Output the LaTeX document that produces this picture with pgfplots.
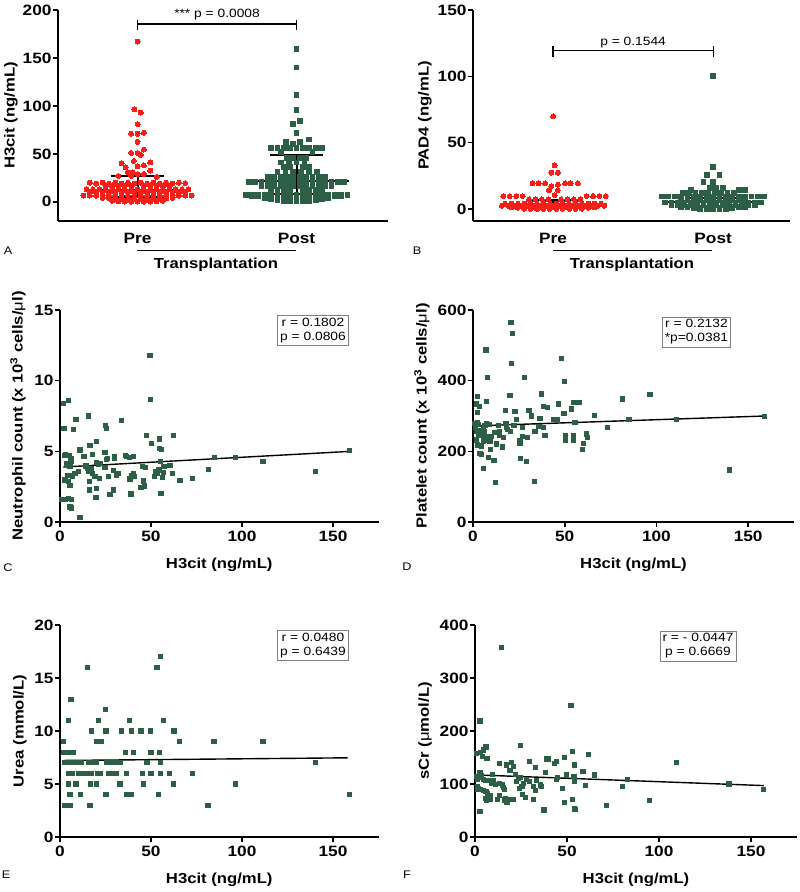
\documentclass[border=0pt]{standalone}
\usepackage{fontspec}
\setmainfont{Liberation Sans}[FakeStretch=1.15]
\usepackage{pgfplots}
\pgfplotsset{compat=1.18}
\definecolor{preRed}{RGB}{250,30,25}
\definecolor{postGreen}{RGB}{45,95,70}
\pgfplotsset{
  gp/.style={
    scale only axis, anchor=south west, clip=false,
    axis lines=left,
    axis line style={line width=1.6pt,-},
    every tick/.style={line width=1.6pt, black},
    tick align=outside, major tick length=5pt,
    /pgf/number format/assume math mode=true,
    tick label style={font=\fontsize{15}{17}\selectfont\bfseries},
    yticklabel style={xshift=2pt},
    label style={font=\fontsize{14.5}{17}\selectfont\bfseries},
  },
  ylab/.style={ylabel style={at={([xshift=-#1]axis description cs:0,0.5)}, anchor=center}},
  sc/.style={gp, xlabel style={yshift=-10pt}},
  preM/.style={only marks, color=preRed, mark=*, mark size=2.5pt, mark options={draw=preRed, fill=preRed, line width=0pt}},
  postM/.style={only marks, color=postGreen, mark=square*, mark size=2.4pt, mark options={draw=postGreen, fill=postGreen, line width=0pt}},
  scat/.style={only marks, color=postGreen, mark=square*, mark size=2.1pt, mark options={draw=postGreen, fill=postGreen, line width=0pt}},
  bar/.style={black, line width=2pt, mark=none},
  brk/.style={black, line width=1.3pt, mark=none},
  reg/.style={black, line width=1.4pt, mark=none},
}
\tikzset{
  box/.style={draw=gray, line width=0.7pt, align=center, inner sep=2.5pt, font=\fontsize{12}{14}\selectfont},
  plet/.style={font=\fontsize{11}{12}\selectfont},
}
\begin{document}
\begin{tikzpicture}[x=1pt,y=1pt]
\path[use as bounding box] (0,0) rectangle (800,892);

% ---------------- A ----------------
\begin{axis}[gp, ylab=47pt, at={(58pt,671pt)}, width=330pt, height=211pt,
  xmin=0.5, xmax=2.575, ymin=-20, ymax=200,
  ytick={0,50,100,150,200}, xtick={1,2}, xticklabels={Pre,Post},
  x tick style={draw=none}, xticklabel style={yshift=-4pt},
  ylabel={H3cit (ng/mL)}]
\addplot[preM] coordinates {
(1.00,167)(0.98,96.5)(1.02,93)(1.00,81)(0.96,71)(1.00,71)(1.04,72)(1.00,62.5)(1.04,54.5)(0.96,51)(1.00,51)(1.02,49)(0.977,42.7)(0.90,40)(1.08,41)(0.925,36)(1.00,37)(1.04,38)(0.94,31)(0.97,31)(1.08,32.6)(1.00,29)(1.04,29)(0.88,27)(0.96,27)(1.12,26)
(0.70,20)(0.74,19)(0.78,20)(0.82,19)(0.86,20)(0.90,19)(0.94,20)(0.98,19)(1.02,20)(1.06,19)(1.10,20)(1.14,19)(1.18,20)(1.22,19)(1.26,20)(1.30,19.5)
(0.80,16.5)(0.84,16.5)(0.88,16.5)(0.92,16.5)(0.96,16.5)(1.04,16.5)(1.08,16.5)(1.12,16.5)(1.16,16.5)(1.20,16.5)
(0.68,13)(0.72,13)(0.76,13)(0.80,13)(0.84,13)(0.88,13)(0.92,13)(0.96,13)(1.00,13)(1.04,13)(1.08,13)(1.12,13)(1.16,13)(1.20,13)(1.24,13)(1.28,13)(1.32,13)
(0.70,9.5)(0.74,9.5)(0.78,9.5)(0.82,9.5)(0.86,9.5)(0.90,9.5)(0.94,9.5)(0.98,9.5)(1.02,9.5)(1.06,9.5)(1.10,9.5)(1.14,9.5)(1.18,9.5)(1.22,9.5)(1.26,9.5)(1.30,9.5)
(0.66,6.5)(0.70,6.5)(0.74,6.5)(0.78,6.5)(0.82,6.5)(0.86,6.5)(0.90,6.5)(0.94,6.5)(0.98,6.5)(1.02,6.5)(1.06,6.5)(1.10,6.5)(1.14,6.5)(1.18,6.5)(1.22,6.5)(1.26,6.5)(1.30,6.5)(1.34,6.5)
(0.78,4)(0.82,3.5)(0.86,3)(0.90,3)(0.94,3)(0.98,3)(1.02,3)(1.06,3)(1.10,3)(1.14,3)(1.18,3.5)(1.22,4)
(0.84,1)(0.88,0.5)(0.92,0.3)(0.96,0.2)(1.00,0.2)(1.04,0.2)(1.08,0.3)(1.12,0.5)(1.16,1)
};
\addplot[postM] coordinates {
(2.00,159)(2.00,140)(2.00,111)(2.00,96)(2.02,84)(1.98,81)(2.00,72)(2.08,65)(1.935,62)(2.02,62)(1.977,60)
(1.84,56)(1.88,56)(1.92,56)(1.96,56)(2.00,56)(2.04,56)(2.08,56)(2.12,56)(2.16,56)
(1.90,52)(2.10,52)
(1.94,46)(1.98,46)(2.02,46)(2.06,46)
(1.90,41)(1.95,41)(2.00,41)(2.05,41)
(1.92,36)(1.96,36)(2.04,36)(2.08,36)
(1.88,31)(1.93,31)(1.98,31)(2.03,31)(2.08,31)(2.13,31)
(1.82,26)(1.86,26)(1.90,26)(1.94,26)(1.98,26)(2.02,26)(2.06,26)(2.10,26)(2.14,26)(2.18,26)
(1.70,21)(1.74,21)(1.78,21)(1.82,21)(1.86,21)(1.90,21)(1.94,21)(1.98,21)(2.02,21)(2.06,21)(2.10,21)(2.14,21)(2.18,21)(2.22,21)(2.26,21)(2.30,21)
(1.78,16)(1.82,16)(1.86,16)(1.90,16)(1.94,16)(1.98,16)(2.02,16)(2.06,16)(2.10,16)(2.14,16)(2.18,16)(2.22,16)
(1.84,12)(1.88,12)(1.92,12)(1.96,12)(2.04,12)(2.08,12)(2.12,12)(2.16,12)
(1.68,7)(1.72,7)(1.76,7)(1.80,7)(1.84,7)(1.88,7)(1.92,7)(1.96,7)(2.00,7)(2.04,7)(2.08,7)(2.12,7)(2.16,7)(2.20,7)(2.24,7)(2.28,7)(2.32,7)
(1.72,6)(1.76,5.5)(1.80,5)(1.84,5)(1.88,4.5)(1.92,4.5)(1.96,4.5)(2.00,4.5)(2.04,4.5)(2.08,4.5)(2.12,4.5)(2.16,5)(2.20,5)(2.24,5.5)(2.28,6)
(1.80,3.5)(1.84,3)(1.88,2.5)(1.92,2.5)(1.96,2.5)(2.00,2.5)(2.04,2.5)(2.08,2.5)(2.12,2.5)(2.16,3)(2.20,3.5)
(1.88,1.5)(1.92,1)(1.96,1)(2.00,1)(2.04,1)(2.08,1)(2.12,1.5)
};
% median / IQR bars
\addplot[bar] coordinates {(0.67,12.5)(1.33,12.5)};
\addplot[bar] coordinates {(0.835,26.7)(1.165,26.7)};
\addplot[bar] coordinates {(0.835,5.5)(1.165,5.5)};
\addplot[bar] coordinates {(1,5.5)(1,26.7)};
\addplot[bar] coordinates {(1.68,22)(2.33,22)};
\addplot[bar] coordinates {(1.83,49)(2.165,49)};
\addplot[bar] coordinates {(1.83,8)(2.165,8)};
\addplot[bar] coordinates {(2,8)(2,49)};
% significance bracket
\addplot[brk] coordinates {(1,185.4)(2,185.4)};
\addplot[brk] coordinates {(1,190)(1,179)};
\addplot[brk] coordinates {(2,190)(2,179)};
\node[font=\fontsize{12}{14}\selectfont] at (axis cs:1.5,195) {*** p = 0.0008};
\end{axis}

% ---------------- B ----------------
\begin{axis}[gp, ylab=48pt, at={(473pt,671pt)}, width=317pt, height=211pt,
  xmin=0.5, xmax=2.48, ymin=-9, ymax=150,
  ytick={0,50,100,150}, xtick={1,2}, xticklabels={Pre,Post},
  x tick style={draw=none}, xticklabel style={yshift=-4pt},
  ylabel={PAD4 (ng/mL)}]
\addplot[preM] coordinates {
(1.00,70)(1.01,33)(0.99,27.4)(1.03,27.4)(0.873,19.4)(0.91,19.4)(0.95,19.4)(1.075,19.4)(1.11,19.4)(1.155,19.4)(0.99,17.3)(1.03,18.3)(0.975,14.3)(1.03,14.3)(1.01,10.5)
(0.69,9.8)(0.73,9.8)(0.77,9.8)(0.81,9.8)(1.21,9.8)(1.25,9.8)(1.29,9.8)(1.33,9.8)
(0.85,7.3)(0.89,7.3)(0.93,7.3)(0.97,7.3)(1.05,7.3)(1.09,7.3)(1.13,7.3)(1.17,7.3)
(0.70,4)(0.74,4)(0.78,4)(0.82,4)(0.86,4)(0.90,4)(0.94,4)(0.98,4)(1.02,4)(1.06,4)(1.10,4)(1.14,4)(1.18,4)(1.22,4)(1.26,4)(1.30,4)
(0.68,2.5)(0.72,2.5)(0.76,2.5)(0.80,2.5)(0.84,2.5)(0.88,2.5)(0.92,2.5)(0.96,2.5)(1.00,2.5)(1.04,2.5)(1.08,2.5)(1.12,2.5)(1.16,2.5)(1.20,2.5)(1.24,2.5)(1.28,2.5)(1.32,2.5)
(0.74,1.2)(0.78,1)(0.82,1)(0.86,1)(0.90,1)(0.94,1)(0.98,1)(1.02,1)(1.06,1)(1.10,1)(1.14,1)(1.18,1)(1.22,1)(1.26,1.2)
(0.82,0.3)(0.86,0.2)(0.90,0.1)(0.94,0.1)(0.98,0.1)(1.02,0.1)(1.06,0.1)(1.10,0.1)(1.14,0.2)(1.18,0.3)
};
\addplot[postM] coordinates {
(2.00,100)(2.00,31.4)(1.96,25.6)(2.04,25.6)(1.94,20.1)(2.00,20.6)(1.98,16)(2.02,16)(2.06,16)(1.86,14.3)(2.16,14.3)(2.20,14.3)
(1.81,11.8)(1.85,11.8)(1.89,11.8)(1.93,11.8)(1.97,11.8)(2.01,11.8)(2.05,11.8)(2.09,11.8)(2.13,11.8)
(1.68,9.5)(1.72,9.5)(1.76,9.5)(1.80,9.5)(1.84,9.5)(1.88,9.5)(1.92,9.5)(1.96,9.5)(2.00,9.5)(2.04,9.5)(2.08,9.5)(2.12,9.5)(2.16,9.5)(2.20,9.5)(2.24,9.5)(2.28,9.5)(2.32,9.5)
(1.80,7)(1.84,7)(1.88,7)(1.92,7)(1.96,7)(2.00,7)(2.04,7)(2.08,7)(2.12,7)(2.16,7)(2.20,7)
(1.70,5)(1.74,5)(1.78,5)(1.82,5)(1.86,5)(1.90,5)(1.94,5)(1.98,5)(2.02,5)(2.06,5)(2.10,5)(2.14,5)(2.18,5)(2.22,5)(2.26,5)(2.30,5)
(1.74,3.3)(1.78,3)(1.82,3)(1.86,2.8)(1.90,2.8)(1.94,2.8)(1.98,2.8)(2.02,2.8)(2.06,2.8)(2.10,2.8)(2.14,3)(2.18,3)(2.22,3)(2.26,3.3)
(1.80,1.5)(1.84,1.3)(1.88,1.2)(1.92,1.2)(1.96,1.2)(2.00,1.2)(2.04,1.2)(2.08,1.2)(2.12,1.3)(2.16,1.5)(2.20,1.5)
(1.88,0.4)(1.92,0.3)(1.96,0.3)(2.00,0.3)(2.04,0.3)(2.08,0.3)(2.12,0.4)
};
\addplot[bar] coordinates {(0.68,3.5)(1.33,3.5)};
\addplot[bar] coordinates {(0.85,6.8)(1.17,6.8)};
\addplot[bar] coordinates {(0.85,1.7)(1.17,1.7)};
\addplot[bar] coordinates {(1,1.7)(1,6.8)};
\addplot[bar] coordinates {(1.68,5)(2.32,5)};
\addplot[bar] coordinates {(1.83,8.5)(2.16,8.5)};
\addplot[bar] coordinates {(1.83,1.7)(2.16,1.7)};
\addplot[bar] coordinates {(2,1.7)(2,8.5)};
\addplot[brk] coordinates {(1,119.3)(2,119.3)};
\addplot[brk] coordinates {(1,122.8)(1,114.8)};
\addplot[brk] coordinates {(2,122.8)(2,114.8)};
\node[font=\fontsize{12}{14}\selectfont] at (axis cs:1.5,125.5) {p = 0.1544};
\end{axis}

% ---------------- C ----------------
\begin{axis}[sc, ylab=42pt, at={(60pt,370pt)}, width=318.5pt, height=212pt,
  xmin=0, xmax=175, ymin=0, ymax=15,
  xtick={0,50,100,150}, ytick={0,5,10,15},
  xlabel={H3cit (ng/mL)},
  ylabel={Neutrophil count (x 10\textsuperscript{3} cells/{\mdseries μ}l)}]
\addplot[scat] coordinates {
(1.8,8.39)(4.6,8.57)(2.2,6.6)(7.3,6.55)(8.8,7.26)(15.6,7.5)(25.0,6.85)(25.6,6.6)(33.9,7.2)(49.5,11.76)
(49.8,8.69)(47.6,6.1)(50.4,5.56)(54.6,5.87)(62.3,6.12)(54.6,5.18)(55.7,5.14)(20.1,5.68)(16.5,5.4)(11.0,5.09)
(3.1,4.78)(5.1,4.71)(2.4,4.73)(6.0,4.5)(6.4,4.26)(3.7,4.1)(5.5,3.9)(12.8,4.62)(13.4,4.62)(17.8,4.78)
(24.7,4.92)(26.0,4.5)(25.6,4.43)(30.0,4.62)(29.8,4.5)(36.1,4.71)(36.6,4.62)(38.1,4.57)(40.3,4.66)(20.1,4.22)
(21.0,4.07)(45.2,3.91)(46.8,3.84)(52.7,3.56)(55.3,4.26)(57.1,3.91)(60.4,3.98)(61.9,3.44)(65.9,2.92)(72.9,3.09)
(81.5,3.72)(84.8,4.55)(96.5,4.55)(111.5,4.29)(140.5,3.56)(159.0,5.06)(11.0,0.31)(5.5,1.06)(6.4,0.99)(0.9,1.62)
(2.7,1.62)(4.6,1.65)(6.4,1.6)(16.1,2.26)(20.1,2.38)(19.8,1.72)(27.5,1.96)(29.3,2.26)(39.0,1.98)(44.5,2.45)
(45.8,2.9)(55.5,2.03)(56.4,3.13)(56.8,3.49)(2.7,2.97)(4.6,2.85)(5.5,2.61)(4.2,3.27)(6.8,3.25)(8.2,3.44)
(10.1,3.56)(15.2,3.79)(15.6,3.56)(17.0,3.79)(16.3,2.85)(17.8,3.44)(19.2,3.2)(21.6,3.08)(24.7,3.84)(26.5,3.2)
(31.0,3.3)(32.3,3.44)(40.8,3.2)(40.3,3.44)(46.4,2.55)(51.9,3.2)(53.7,3.44)(54.4,3.68)(22.0,4.15)(14.3,3.96)
(38.5,3.04)(39.4,3.27)(29.3,3.67)
};
\addplot[reg] coordinates {(1.8,3.89)(158.4,4.99)};
\end{axis}

% ---------------- D ----------------
\begin{axis}[sc, ylab=51pt, at={(473pt,370pt)}, width=321pt, height=212pt,
  xmin=0, xmax=175, ymin=0, ymax=600,
  xtick={0,50,100,150}, ytick={0,200,400,600},
  xlabel={H3cit (ng/mL)},
  ylabel={Platelet count (x 10\textsuperscript{3} cells/{\mdseries μ}l)}]
\addplot[scat] coordinates {
(20.7,565)(21.6,534)(7.1,487)(21.1,449)(48.4,463)(8.0,409)(28.0,409)(50.0,397)(2.5,355)(7.5,341)
(20.2,359)(37.5,362)(96.5,361)(81.5,348)(38.4,328)(40.7,324)(46.4,334)(54.7,339)(57.8,339)(53.8,320)
(1.8,334)(3.5,326)(2.4,309)(17.6,315)(22.9,312)(30.5,315)(31.8,300)(49.6,306)(66.2,302)(45.0,291)
(46.0,291)(23.5,291)(36.5,293)(85.0,291)(111.0,291)(159.0,298)(55.6,282)(73.5,268)(62.0,249)(62.5,240)
(60.2,223)(59.8,206)(54.7,245)(54.7,232)(50.4,244)(50.4,232)(39.3,245)(33.8,255)(27.0,267)(27.0,242)
(25.6,229)(25.6,223)(22.4,272)(18.4,267)(18.0,279)(13.8,274)(14.4,256)(14.4,246)(11.6,254)(16.2,212)
(12.9,221)(11.5,174)(8.4,182)(5.6,152)(3.8,194)(4.5,192)(2.5,218)(4.7,215)(5.6,227)(5.9,240)
(1.8,232)(7.1,232)(8.0,242)(7.5,279)(8.9,275)(6.5,272)(2.5,282)(3.1,275)(5.6,265)(6.0,256)
(1.8,256)(3.8,258)(0.7,279)(1.2,268)(10.2,242)(9.3,227)(12.4,111)(33.5,114)(140.0,147)(26.0,180)
(29.3,171)(19.0,262)(20.5,255)(16.5,240)(36.0,270)(38.5,268)(29.5,240)(44.0,290)(9.5,205)(3.0,245)
(6.0,248)
};
\addplot[reg] coordinates {(1,272)(159,300)};
\end{axis}

% ---------------- E ----------------
\begin{axis}[sc, ylab=40pt, at={(60pt,55pt)}, width=318.5pt, height=212pt,
  xmin=0, xmax=175, ymin=0, ymax=20,
  xtick={0,50,100,150}, ytick={0,5,10,15,20},
  xlabel={H3cit (ng/mL)},
  ylabel={Urea (mmol/L)}]
\addplot[scat] coordinates {
(55.3,17)(15.0,16)(53.3,16)(6.0,13)(24.9,12)(4.6,11)(21.1,11)(38.3,11)(57.0,11)(17.4,10)
(25.3,10)(33.9,10)(39.2,10)(44.5,10)(49.6,10)(62.6,10)(2.0,9)(20.1,9)(22.9,9)(65.6,9)
(84.6,9)(111.5,9)(1.8,8)(3.7,8)(5.5,8)(7.3,8)(36.1,8)(40.5,8)(50.0,8)(54.8,8)
(2.7,7)(4.0,7)(5.3,7)(6.6,7)(7.9,7)(9.2,7)(10.5,7)(11.9,7)(15.6,7)(17.0,7)
(18.5,7)(20.1,7)(25.6,7)(27.0,7)(28.5,7)(30.0,7)(31.5,7)(33.0,7)(47.8,7)(55.1,7)
(140.5,7)(4.6,6)(6.8,6)(10.1,6)(12.8,6)(15.6,6)(20.7,6)(22.0,6)(26.6,6)(29.3,6)
(31.1,6)(36.6,6)(45.2,6)(50.0,6)(55.1,6)(60.3,6)(72.9,6)(14.0,6)(17.2,6)(4.6,5)
(8.8,5)(16.8,5)(20.1,5)(33.0,5)(46.0,5)(62.3,5)(96.5,5)(5.5,4)(11.2,4)(25.3,4)
(36.6,4)(39.4,4)(54.2,4)(159.0,4)(2.7,3)(5.5,3)(16.5,3)(81.3,3)(3.5,3)
};
\addplot[reg] coordinates {(2,7.22)(158,7.47)};
\end{axis}

% ---------------- F ----------------
\begin{axis}[sc, ylab=50pt, at={(475pt,55pt)}, width=322pt, height=212pt,
  xmin=0, xmax=175, ymin=0, ymax=400,
  xtick={0,50,100,150}, ytick={0,100,200,300,400},
  xlabel={H3cit (ng/mL)},
  ylabel={sCr ({\mdseries μ}mol/L)}]
\addplot[scat] coordinates {
(14.4,358)(52.2,248)(2.7,219)(24.7,172)(0.9,158)(3.1,159)(4.5,164)(6.0,170)(4.0,152)(6.5,148)
(53.2,162)(61.6,155)(109.4,140)(13.5,139)(17.1,136)(29.8,143)(38.8,147)(39.7,147)(43.3,139)(44.2,142)
(48.6,150)(54.2,136)(20.0,140)(21.0,133)(19.0,126)(22.0,118)(32.9,131)(58.7,123)(65.0,117)(49.6,117)
(44.2,109)(53.8,114)(54.2,104)(38.3,121)(33.4,107)(28.0,109)(29.8,104)(22.5,104)(23.5,110)(24.5,113)
(13.5,101)(15.0,98)(9.0,101)(8.0,107)(10.0,106)(2.7,121)(3.6,116)(2.3,112)(4.5,109)(6.0,106)
(2.7,89)(1.8,92)(4.5,87)(6.0,86)(6.8,81)(7.3,76)(8.5,79)(8.2,71)(5.5,73)(6.4,69)
(12.3,71)(13.5,79)(16.2,70)(16.7,73)(17.4,65)(15.5,94)(15.9,89)(19.5,71)(20.8,71)(24.0,92)
(25.5,96)(26.5,101)(27.6,75)(31.6,95)(31.9,71)(35.6,98)(36.0,95)(37.5,51)(47.5,92)(48.7,65)
(53.2,71)(54.2,53)(54.6,52)(60.0,97)(80.0,95)(83.0,109)(71.5,59)(94.8,69)(138.0,100)(156.7,89)
(2.7,48)(0.9,114)(1.3,108)(1.3,95)(1.5,90)(11.0,99)(9.5,118)(26.0,80)(33.0,88)(45.0,112)
};
\addplot[reg] coordinates {(2,117)(157,97)};
\end{axis}

% ---------------- annotations ----------------
\draw[line width=1pt] (137,641) -- (296,641);
\node[font=\fontsize{14.5}{17}\selectfont\bfseries] at (216,627) {Transplantation};
\draw[line width=1pt] (553,641) -- (712,641);
\node[font=\fontsize{14.5}{17}\selectfont\bfseries] at (632,627) {Transplantation};

\node[box] at (313,561.5) {r = 0.1802\\p = 0.0806};
\node[box] at (696.5,560) {r = 0.2132\\*p=0.0381};
\node[box] at (313,246.5) {r = 0.0480\\p = 0.6439};
\node[box] at (698,246) {r = - 0.0447\\p = 0.6669};

\node[plet] at (8,641) {A};
\node[plet] at (417,641) {B};
\node[plet] at (8,324) {C};
\node[plet] at (407,325) {D};
\node[plet] at (6,17) {E};
\node[plet] at (407,17) {F};
\end{tikzpicture}
\end{document}
